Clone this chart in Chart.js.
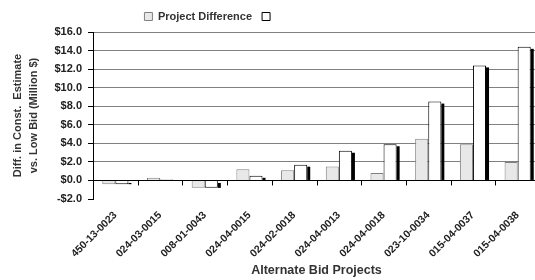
<!DOCTYPE html>
<html>
<head>
<meta charset="utf-8">
<script src="https://cdn.jsdelivr.net/npm/chart.js@4/dist/chart.umd.min.js"></script>
<style>
  html, body { margin: 0; padding: 0; background: #fff; overflow: hidden; }
  #wrap { width: 540px; height: 280px; position: relative; }
</style>
</head>
<body>
<div id="wrap"><canvas id="chart"></canvas></div>
<script>
// data
const projects = ["450-13-0023", "024-03-0015", "008-01-0043", "024-04-0015", "024-02-0018",
  "024-04-0013", "024-04-0018", "023-10-0034", "015-04-0037", "015-04-0038"]
const projectDifference = [-0.4, 0.3, -0.8, 1.2, 1.1, 1.5, 0.8, 4.5, 3.9, 2.0]
const secondSeries = [-0.4, 0.1, -0.8, 0.5, 1.7, 3.2, 3.9, 8.5, 12.4, 14.4]
const yMin = -2
const yMax = 16
const yStep = 2

const font = "'Liberation Sans', Arial, sans-serif"

// black drop shadow on the right side of the white bars
const barShadow = {
  id: "barShadow",
  afterDatasetDraw(chart, args) {
    if (args.index !== 1) return
    const ctx = chart.ctx
    ctx.save()
    ctx.fillStyle = "#000"
    args.meta.data.forEach((bar) => {
      const { x, y, base, width } = bar.getProps(["x", "y", "base", "width"], true)
      const top = Math.min(y, base)
      const h = Math.abs(base - y)
      if (h < 3) return
      ctx.fillRect(x + width / 2, top + 2, 3, h - 2)
    })
    ctx.restore()
  },
}

// category tick marks hanging below the zero line
const zeroTicks = {
  id: "zeroTicks",
  afterDatasetsDraw(chart) {
    const x = chart.scales.x
    const y0 = chart.scales.y.getPixelForValue(0)
    const half = (x.getPixelForValue(1) - x.getPixelForValue(0)) / 2
    const ctx = chart.ctx
    ctx.save()
    ctx.strokeStyle = "#000"
    ctx.lineWidth = 1
    ctx.beginPath()
    for (let i = 1; i < projects.length; i++) {
      const px = Math.round(x.getPixelForValue(i) - half) + 0.5
      ctx.moveTo(px, y0)
      ctx.lineTo(px, y0 + 5)
    }
    ctx.stroke()
    ctx.restore()
  },
}

// legend sits left of centre in the original
const legendShift = {
  id: "legendShift",
  afterLayout(chart) {
    chart.legend.left -= 60
    chart.legend.right -= 60
  },
}

const ctx = document.getElementById("chart").getContext("2d")
new Chart(ctx, {
  type: "bar",
  data: {
    labels: projects,
    datasets: [
      {
        label: "Project Difference",
        data: projectDifference,
        backgroundColor: "#e8e8e8",
        borderColor: "#808080",
        borderWidth: 1,
        categoryPercentage: 0.585,
        barPercentage: 1.0,
      },
      {
        label: "",
        data: secondSeries,
        backgroundColor: "#ffffff",
        borderColor: "#000000",
        borderWidth: 1,
        categoryPercentage: 0.585,
        barPercentage: 1.0,
      },
    ],
  },
  options: {
    responsive: true,
    maintainAspectRatio: false,
    animation: false,
    layout: { padding: { top: 1, left: 0, right: 0, bottom: 0 } },
    plugins: {
      tooltip: { enabled: false },
      legend: {
        position: "top",
        labels: {
          boxWidth: 8,
          boxHeight: 8,
          padding: 10,
          color: "#333",
          font: { family: font, size: 11, weight: "bold" },
        },
      },
    },
    scales: {
      x: {
        grid: { display: false },
        border: { display: false },
        ticks: {
          minRotation: 45,
          maxRotation: 45,
          padding: 2,
          color: "#222",
          font: { family: font, size: 10.5, weight: "bold" },
        },
        title: {
          display: true,
          text: "Alternate Bid Projects",
          color: "#333",
          padding: { top: 2, bottom: 2 },
          font: { family: font, size: 12.5, weight: "bold" },
        },
        afterFit(scale) {
          scale.height = 81
        },
      },
      y: {
        min: yMin,
        max: yMax,
        ticks: {
          stepSize: yStep,
          padding: 6,
          color: "#222",
          font: { family: font, size: 11, weight: "bold" },
          callback: (v) => (v < 0 ? "-$" : "$") + Math.abs(v).toFixed(1),
        },
        grid: {
          tickLength: 5,
          tickColor: "#000",
          color: (c) => (c.tick.value === 0 ? "#000" : c.tick.value === yMin ? "rgba(0,0,0,0)" : "#808080"),
        },
        border: { display: true, color: "#000" },
        title: {
          display: true,
          text: ["Diff. in Const.  Estimate", "vs. Low Bid (Million $)"],
          color: "#333",
          padding: { top: 10, bottom: 0 },
          font: { family: font, size: 11, weight: "bold", lineHeight: 1.45 },
        },
        afterFit(scale) {
          scale.width = 93
        },
      },
    },
  },
  plugins: [barShadow, zeroTicks, legendShift],
})
</script>
</body>
</html>
